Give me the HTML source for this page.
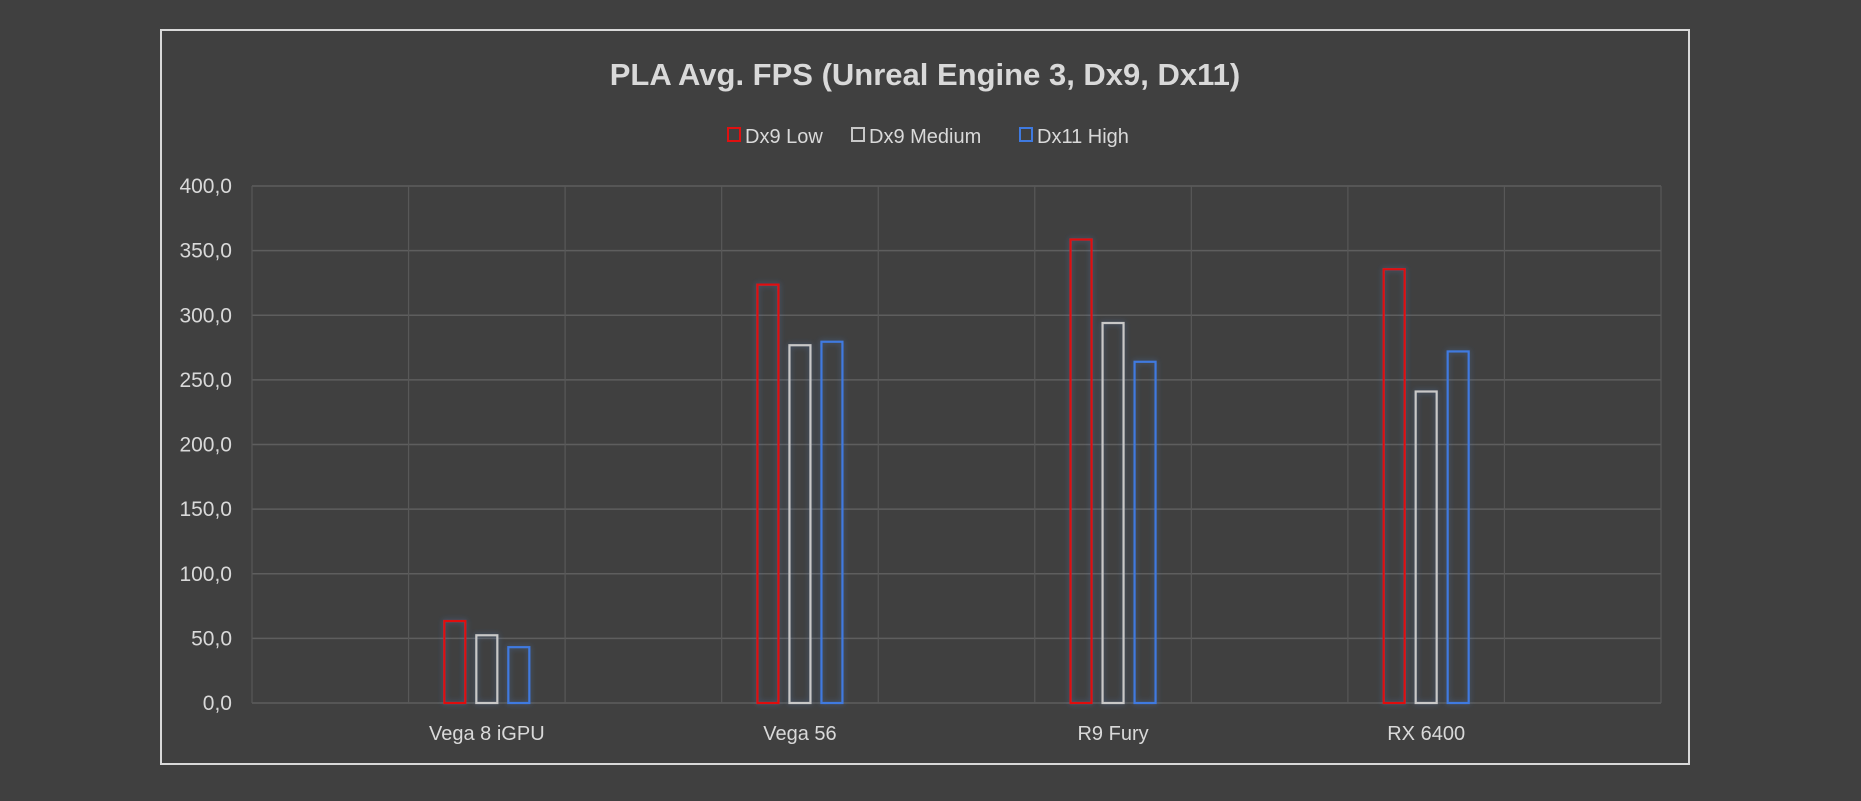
<!DOCTYPE html>
<html><head><meta charset="utf-8"><style>
html,body{margin:0;padding:0;background:#404040;}
svg{display:block;}
text{font-family:"Liberation Sans",sans-serif;fill:#d9d9d9;}
</style></head><body>
<svg width="1861" height="801" viewBox="0 0 1861 801" xmlns="http://www.w3.org/2000/svg">
<defs><filter id="glow" x="-100%" y="-10%" width="300%" height="120%"><feDropShadow dx="0" dy="0" stdDeviation="3" flood-color="#4a7cc4" flood-opacity="0.5"/></filter></defs>
<rect x="161" y="30" width="1528" height="734" fill="#404040" stroke="#d9d9d9" stroke-width="2"/>
<text x="925" y="85" text-anchor="middle" font-size="31" font-weight="bold">PLA Avg. FPS (Unreal Engine 3, Dx9, Dx11)</text>
<g id="legend"></g>
<g id="grid"></g>
<g id="yaxis"></g>
<g id="xaxis"></g>
<g id="bars"></g>
</svg>
<script>
const categories = ["Vega 8 iGPU", "Vega 56", "R9 Fury", "RX 6400"];
const seriesNames = ["Dx9 Low", "Dx9 Medium", "Dx11 High"];
const dx9Low = [63.4, 323.7, 358.6, 335.6];
const dx9Medium = [52.4, 276.8, 294.0, 241.0];
const dx11High = [43.2, 279.5, 264.0, 272.0];
const yTicks = [0, 50, 100, 150, 200, 250, 300, 350, 400];
const yTickLabels = ["0,0", "50,0", "100,0", "150,0", "200,0", "250,0", "300,0", "350,0", "400,0"];

const NS = "http://www.w3.org/2000/svg";
const colors = ["#e01010", "#c8c8c8", "#3f7ae0"];
const series = [dx9Low, dx9Medium, dx11High];
const L = 252, R = 1661, T = 186, B = 703, yMax = 400, nCols = 9;
const colW = (R - L) / nCols;
const y = v => B - (v / yMax) * (B - T);
const xCenter = i => L + colW * (1.5 + 2 * i);
function mk(tag, attrs, parent) { const e = document.createElementNS(NS, tag); for (const k in attrs) e.setAttribute(k, attrs[k]); parent.appendChild(e); return e; }

const grid = document.getElementById('grid');
yTicks.forEach(t => {
  const ln = mk('line', {x1: L, x2: R, y1: y(t), y2: y(t), stroke: '#5e5e5e', 'stroke-width': 1.5}, grid);
  
  
});
for (let c = 0; c <= nCols; c++) {
  const ln = mk('line', {x1: L + c * colW, x2: L + c * colW, y1: T, y2: B, stroke: '#585858', 'stroke-width': 1.2}, grid);
  
  
}
const yaxis = document.getElementById('yaxis');
yTicks.forEach((t, i) => {
  const tx = mk('text', {x: 232, y: y(t) + 7, 'text-anchor': 'end', 'font-size': 21}, yaxis);
  tx.textContent = yTickLabels[i];
  
  
});
const xaxis = document.getElementById('xaxis');
categories.forEach((c, i) => {
  const tx = mk('text', {x: xCenter(i), y: 740, 'text-anchor': 'middle', 'font-size': 20}, xaxis);
  tx.textContent = c;
  
  
});
const bars = document.getElementById('bars');
const bw = 21, off = 32;
categories.forEach((c, i) => {
  series.forEach((s, j) => {
    const cx = xCenter(i) + (j - 1) * off;
    const r = mk('rect', {x: cx - bw / 2, y: y(s[i]), width: bw, height: B - y(s[i]), fill: 'none', stroke: colors[j], 'stroke-width': 2.2, filter: 'url(#glow)'}, bars);
    
    
  });
});
const legend = document.getElementById('legend');
const legX = [728, 852, 1020];
seriesNames.forEach((n, j) => {
  const g = mk('g', {}, legend);
  
  
  mk('rect', {x: legX[j], y: 128, width: 12, height: 13, fill: 'none', stroke: colors[j], 'stroke-width': 2}, g);
  const tx = mk('text', {x: legX[j] + 17, y: 143, 'font-size': 20}, g);
  tx.textContent = n;
});
</script>
</body></html>
